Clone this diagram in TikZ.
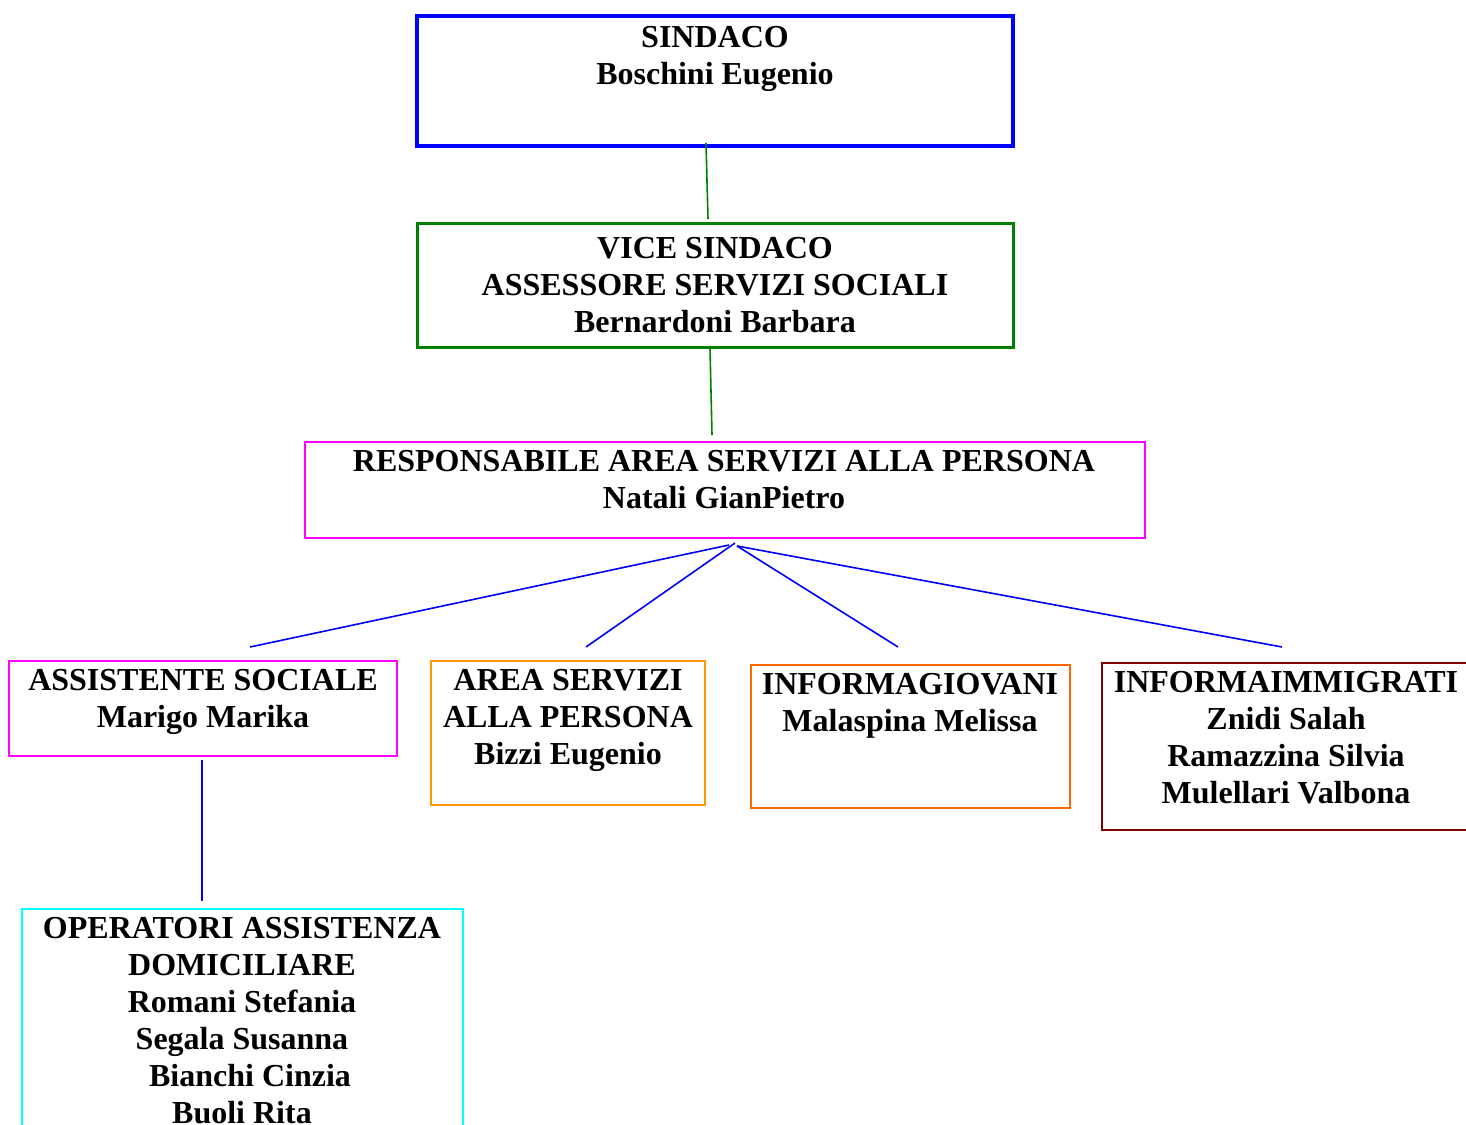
\documentclass[tikz,border=0pt]{standalone}
\usepackage{fontspec}
\setmainfont{Liberation Serif}
\definecolor{cblue}{RGB}{0,0,255}
\definecolor{cgreen}{RGB}{0,128,0}
\definecolor{cmag}{RGB}{255,0,255}
\definecolor{corangeA}{RGB}{255,153,0}
\definecolor{corangeB}{RGB}{255,102,0}
\definecolor{cdred}{RGB}{128,0,0}
\definecolor{ccyan}{RGB}{0,255,255}
\begin{document}
\begin{tikzpicture}[x=0.5pt,y=-0.5pt,
  frame/.style={draw, rectangle, inner sep=0pt, line width=1pt},
  lbl/.style={anchor=north, inner sep=0pt, align=center,
    font=\fontsize{16}{18.5}\selectfont\bfseries},
  link/.style={line width=0.8pt}]
\clip (0,0) rectangle (1466,1124);
\fill[white] (0,0) rectangle (1466,1124);
% boxes
\node[frame, draw=cblue, line width=2pt, minimum width=298pt, minimum height=65pt] (sind) at (715,81) {};
\node[frame, draw=cgreen, line width=1.5pt, minimum width=298pt, minimum height=62pt] (vice) at (715,285) {};
\node[frame, draw=cmag, minimum width=420pt, minimum height=48pt] (resp) at (725,490) {};
\node[frame, draw=cmag, minimum width=194pt, minimum height=47.5pt] (ass) at (203,708.5) {};
\node[frame, draw=corangeA, minimum width=137pt, minimum height=72pt] (area) at (568,733) {};
\node[frame, draw=corangeB, minimum width=159.5pt, minimum height=71.5pt] (giov) at (910.5,736.5) {};
\node[frame, draw=cdred, minimum width=200pt, minimum height=83.5pt] (immi) at (1302,746.5) {};
\node[frame, draw=ccyan, minimum width=220.5pt, minimum height=120pt] (oper) at (242.5,1029) {};
% texts
\node[lbl] (tsind) at (715,26) {SINDACO\\Boschini Eugenio};
\node[lbl] (tvice) at (715,237) {VICE SINDACO\\ASSESSORE SERVIZI SOCIALI\\Bernardoni Barbara};
\node[lbl] (tresp) at (724,450) {RESPONSABILE AREA SERVIZI ALLA PERSONA\\Natali GianPietro};
\node[lbl] (tass) at (203,669) {ASSISTENTE SOCIALE\\Marigo Marika};
\node[lbl] (tarea) at (568,669) {AREA SERVIZI\\ALLA PERSONA\\Bizzi Eugenio};
\node[lbl] (tgiov) at (910,673) {INFORMAGIOVANI\\Malaspina Melissa};
\node[lbl] (timmi) at (1286,671) {INFORMAIMMIGRATI\\Znidi Salah\\Ramazzina Silvia\\Mulellari Valbona};
\node[lbl] (toper) at (242,917) {OPERATORI ASSISTENZA\\DOMICILIARE\\Romani Stefania\\Segala Susanna\\\hspace*{8pt}Bianchi Cinzia\\Buoli Rita};
% connector ends
\coordinate (g1a) at (706,143);
\coordinate (g1b) at (708,219);
\coordinate (g2a) at (710,348);
\coordinate (g2b) at (712,435);
\coordinate (hubA) at (729,545);
\coordinate (hubB) at (735,543);
\coordinate (hubC) at (737,546);
\coordinate (eass) at (250,647);
\coordinate (earea) at (586,647);
\coordinate (egiov) at (898,647);
\coordinate (eimmi) at (1282,647);
\coordinate (vtop) at (202,760);
\coordinate (vbot) at (202,901);
% connectors
\draw[link, cgreen] (g1a) -- (g1b);
\draw[link, cgreen] (g2a) -- (g2b);
\draw[link, cblue] (hubA) -- (eass);
\draw[link, cblue] (hubB) -- (earea);
\draw[link, cblue] (hubC) -- (egiov);
\draw[link, cblue] (hubC) -- (eimmi);
\draw[link, cblue] (vtop) -- (vbot);
\end{tikzpicture}
\end{document}
